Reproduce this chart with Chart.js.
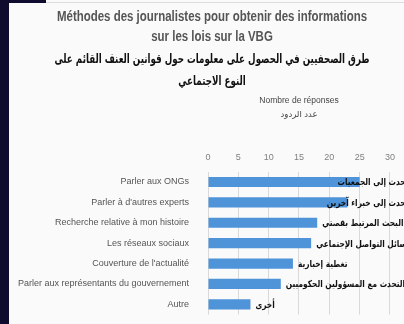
<!DOCTYPE html>
<html>
<head>
<meta charset="utf-8">
<script src="https://cdn.jsdelivr.net/npm/chart.js@4"></script>
<style>
  html, body { margin: 0; padding: 0; background: #fafafa; }
  #wrap { position: relative; width: 404px; height: 324px; overflow: hidden; }
  #edge { position: absolute; left: 0; top: 0; width: 9px; height: 324px; background: #0e0b2e; }
  #corner { position: absolute; left: 0; top: 0; width: 46px; height: 3px; background: #0e0b2e; }
  #topline { position: absolute; left: 46px; top: 2px; width: 358px; height: 1px; background: #dcdcdc; }
  canvas { position: absolute; left: 0; top: 0; }
</style>
</head>
<body>
<div id="wrap">
  <canvas id="methodsChart" width="404" height="324"></canvas>
  <div id="edge"></div>
  <div id="corner"></div>
  <div id="topline"></div>
</div>
<script>
// categories (French) and their Arabic captions
var categories = [
    'Parler aux ONGs',
    "Parler à d'autres experts",
    'Recherche relative à mon histoire',
    'Les réseaux sociaux',
    "Couverture de l'actualité",
    'Parler aux représentants du gouvernement',
    'Autre'
];
var arabicLabels = [
    'التحدث إلى الجمعيات',
    'التحدث إلى خبراء آخرين',
    'البحث المرتبط بقصتي',
    'وسائل التواصل الإجتماعي',
    'تغطية إخبارية',
    'التحدث مع المسؤولين الحكوميين',
    'أخرى'
];
var responses = [25, 23, 18, 17, 14, 12, 7];
var xTicks = [0, 5, 10, 15, 20, 25, 30];

var titleFr = ['Méthodes des journalistes pour obtenir des informations', 'sur les lois sur la VBG'];
var titleAr = ['طرق الصحفيين في الحصول على معلومات حول قوانين العنف القائم على', 'النوع الاجتماعي'];
var axisTitle = ['Nombre de réponses', 'عدد الردود'];

// writes a block of centred lines squeezed horizontally so the first line fits the given width
function drawSqueezed(ctx, lines, font, color, fitWidth, cx, y0, lineGap) {
    ctx.save();
    ctx.font = font;
    ctx.fillStyle = color;
    ctx.textAlign = 'center';
    ctx.textBaseline = 'middle';
    var k = Math.min(1, fitWidth / ctx.measureText(lines[0]).width);
    lines.forEach(function (line, i) {
        ctx.save();
        ctx.translate(cx, y0 + i * lineGap);
        ctx.scale(k, 1);
        ctx.fillText(line, 0, 0);
        ctx.restore();
    });
    ctx.restore();
}

// French + Arabic heading above the chart
var heading = {
    id: 'heading',
    afterDraw: function (chart) {
        var ctx = chart.ctx;
        drawSqueezed(ctx, titleFr, 'bold 14px "Liberation Sans", Arial, sans-serif', '#555555', 310, 212, 17, 20);
        drawSqueezed(ctx, titleAr, 'bold 13px "DejaVu Sans", sans-serif', '#111111', 315, 212, 60, 22);
    }
};

// draws the arabic caption next to the end of each bar (condensed)
var barCaptions = {
    id: 'barCaptions',
    afterDatasetsDraw: function (chart) {
        var ctx = chart.ctx;
        var meta = chart.getDatasetMeta(0);
        var squeeze = 0.78;
        ctx.save();
        ctx.font = 'bold 9.5px "DejaVu Sans"';
        ctx.fillStyle = '#111';
        ctx.textBaseline = 'middle';
        ctx.textAlign = 'left';
        meta.data.forEach(function (bar, i) {
            var txt = arabicLabels[i];
            var w = ctx.measureText(txt).width * squeeze;
            var x = Math.min(bar.x + 5, chart.width + 10 - w);
            ctx.save();
            ctx.translate(x, bar.y + 1);
            ctx.scale(squeeze, 1);
            ctx.fillText(txt, 0, 0);
            ctx.restore();
        });
        ctx.restore();
    }
};

document.addEventListener("DOMContentLoaded", function () {
    var ctx = document.getElementById('methodsChart').getContext('2d');
    new Chart(ctx, {
        type: 'bar',
        data: {
            labels: categories,
            datasets: [{
                label: 'Nombre de réponses',
                data: responses,
                backgroundColor: '#4f93d8',
                borderWidth: 0,
                barPercentage: 0.5,
                categoryPercentage: 1
            }]
        },
        options: {
            indexAxis: 'y',
            responsive: false,
            animation: false,
            layout: { padding: { left: 12, right: 7, top: 94, bottom: 9.5 } },
            plugins: {
                legend: { display: false },
                tooltip: { enabled: false },
                title: { display: false }
            },
            scales: {
                x: {
                    position: 'top',
                    min: 0,
                    max: 30,
                    afterBuildTicks: function (scale) {
                        scale.ticks = xTicks.map(function (v) { return { value: v }; });
                    },
                    title: {
                        display: true,
                        text: axisTitle,
                        color: '#444',
                        font: { family: '"Liberation Sans", "DejaVu Sans", sans-serif', size: 8.5, lineHeight: 14 / 8.5 },
                        padding: { top: 0, bottom: 21 }
                    },
                    ticks: {
                        color: '#808080',
                        font: { family: '"Liberation Sans", sans-serif', size: 9 },
                        padding: 9
                    },
                    grid: { color: '#d9d9d9', drawTicks: false },
                    border: { display: false }
                },
                y: {
                    afterFit: function (scale) {
                        scale.width = 196;
                        scale.paddingTop = 0;
                        scale.paddingBottom = 0;
                    },
                    ticks: {
                        color: '#555555',
                        font: { family: '"Liberation Sans", sans-serif', size: 9 },
                        padding: 11
                    },
                    grid: { display: false },
                    border: { display: false }
                }
            }
        },
        plugins: [barCaptions, heading]
    });
});
</script>
</body>
</html>
